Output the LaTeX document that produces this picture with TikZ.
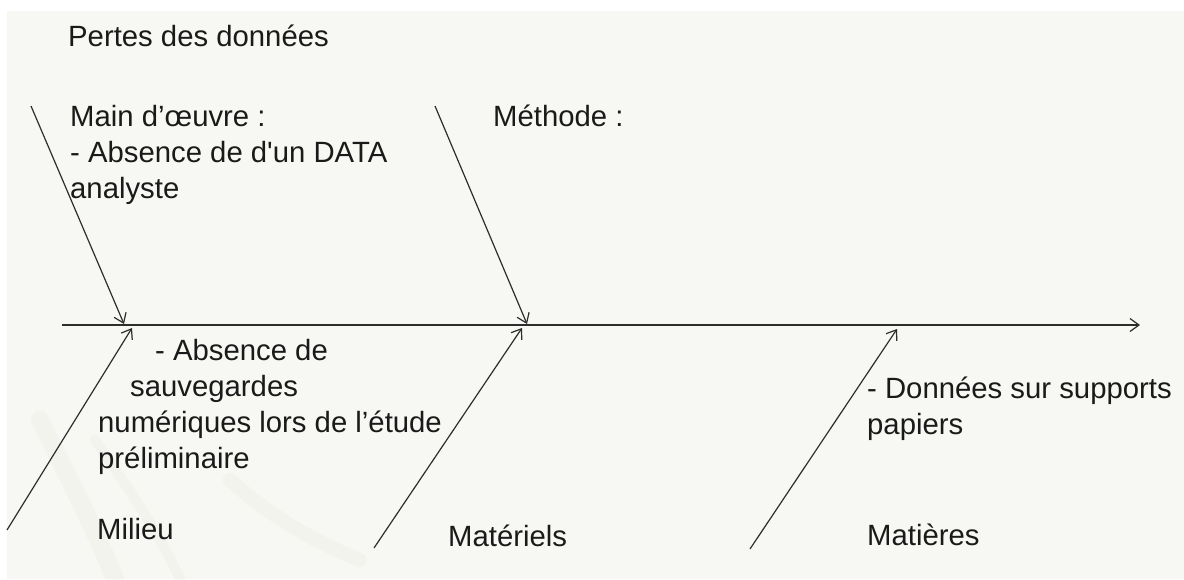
\documentclass[tikz,border=0pt]{standalone}
\usepackage{fontspec}
\setmainfont{Liberation Sans}[Ligatures=TeXOff]
\usetikzlibrary{arrows.meta}
\definecolor{paper}{RGB}{247,247,243}
\definecolor{ink}{RGB}{26,26,26}
\definecolor{boneline}{RGB}{45,45,45}
\definecolor{streak}{RGB}{228,232,214}
\begin{document}
\begin{tikzpicture}[x=1pt,y=-1pt,
  label/.style={anchor=base west,inner sep=0pt,text=ink,align=left,
    font=\fontsize{29.3}{36}\selectfont},
  bone/.style={draw=boneline,line width=1.2pt,
    -{Straight Barb[length=9pt,width=13pt,line width=1.2pt]}}]
  % page and slide background
  \useasboundingbox (0,0) rectangle (1184,579);
  \fill[white] (0,0) rectangle (1184,579);
  \fill[paper] (7,11) rectangle (1184,579);
  % faint texture in the lower left of the slide
  \begin{scope}[opacity=0.22,line cap=round]
    \draw[streak,line width=18pt] (40,420) .. controls (70,480) and (95,530) .. (115,579);
    \draw[streak,line width=10pt] (95,440) .. controls (130,490) and (160,535) .. (180,579);
    \draw[streak,line width=14pt] (230,480) .. controls (280,525) and (330,548) .. (360,560);
  \end{scope}

  % titles and causes (anchored at the baseline of each last line)
  \node[label] (title) at (68,46) {Pertes des données};
  \node[label] (mo) at (70,198) {Main d’œuvre :\\- Absence de d'un DATA\\analyste};
  \node[label] (meth) at (493,126) {Méthode :};
  \node[label] (mil) at (98,468) {\hspace*{57pt}- Absence de\\\hspace*{32pt}sauvegardes\\numériques lors de l’étude\\préliminaire};
  \node[label] (milieu) at (97,539) {Milieu};
  \node[label] (mat) at (448,546) {Matériels};
  \node[label] (donnees) at (867,434) {- Données sur supports\\papiers};
  \node[label] (matieres) at (867,545) {Matières};

  % spine
  \coordinate (tail) at (62,325);
  \coordinate (head) at (1140,325);
  \draw[bone] (tail) -- (head);

  % upper bones
  \coordinate (b1s) at (31,106);  \coordinate (b1e) at (124,324);
  \coordinate (b2s) at (435,106); \coordinate (b2e) at (527,324);
  \draw[bone] (b1s) -- (b1e);
  \draw[bone] (b2s) -- (b2e);

  % lower bones
  \coordinate (b3s) at (7,530);   \coordinate (b3e) at (132,328);
  \coordinate (b4s) at (374,548); \coordinate (b4e) at (522,328);
  \coordinate (b5s) at (750,549); \coordinate (b5e) at (897,329);
  \draw[bone] (b3s) -- (b3e);
  \draw[bone] (b4s) -- (b4e);
  \draw[bone] (b5s) -- (b5e);
\end{tikzpicture}
\end{document}
